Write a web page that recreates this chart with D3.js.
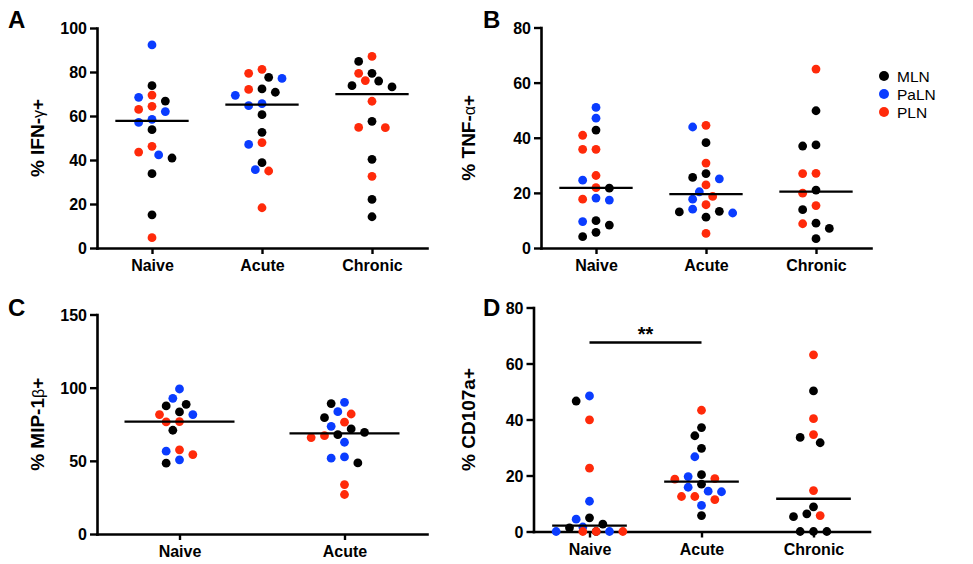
<!DOCTYPE html>
<html>
<head>
<meta charset="utf-8">
<script src="https://cdn.jsdelivr.net/npm/d3@7/dist/d3.min.js"></script>
<style>
  body { margin: 0; background: #fff; }
  svg { font-family: "Liberation Sans", Arial, Helvetica, sans-serif; }
</style>
</head>
<body>
<svg id="chart" width="973" height="564"></svg>
<script>
// groups (legend) and their colours
const groups = ["MLN", "PaLN", "PLN"];
const groupColors = { MLN: "#000000", PaLN: "#0a3cff", PLN: "#ff2a0a" };

// A: % IFN-g+
const ifnCats = ["Naive", "Acute", "Chronic"];
const ifnTicks = [0, 20, 40, 60, 80, 100];
const ifnNaive = { MLN: [73.8, 66.8, 53.8, 40.9, 33.8, 15.1], PaLN: [92.3, 68.5, 62, 58.5, 57.1, 42.3], PLN: [69.5, 64.4, 63, 46.2, 43.6, 4.7] };
const ifnAcute = { MLN: [77.6, 72.3, 70.8, 60.6, 52.6, 38.8], PaLN: [77.1, 69.4, 65.6, 64.7, 47.1, 35.6], PLN: [81.2, 79.4, 72.1, 47.9, 35, 18.3] };
const ifnChronic = { MLN: [84.8, 79.4, 75.9, 73.8, 73.2, 57.6, 40.3, 22.1, 14.2], PaLN: [], PLN: [87.1, 79.4, 76.1, 66.7, 54.8, 54.7, 32.6] };

// B: % TNF-a+
const tnfCats = ["Naive", "Acute", "Chronic"];
const tnfTicks = [0, 20, 40, 60, 80];
const tnfNaive = { MLN: [42.8, 21.7, 9.9, 8.3, 5.7, 4.1], PaLN: [51.0, 47.1, 24.6, 18.1, 17.4, 9.6], PLN: [40.9, 35.8, 35.8, 26.3, 21.9, 17.7] };
const tnfAcute = { MLN: [38.2, 27.0, 25.6, 13.3, 13.1, 11.2], PaLN: [43.9, 25.1, 20.4, 17.7, 14.1, 12.7], PLN: [44.5, 30.8, 22.9, 18.7, 15.7, 5.3] };
const tnfChronic = { MLN: [49.8, 37.4, 37.0, 21.0, 13.9, 9.0, 7.1, 3.4], PaLN: [], PLN: [64.9, 27.1, 27.0, 19.9, 15.4, 8.8] };

// C: % MIP-1b+
const mipCats = ["Naive", "Acute"];
const mipTicks = [0, 50, 100, 150];
const mipNaive = { MLN: [88.6, 87.5, 83.4, 70.9, 48.4], PaLN: [99.1, 92.7, 81.6, 56.6, 50.7], PLN: [81.6, 76.8, 76.6, 57.5, 54.3] };
const mipAcute = { MLN: [89.1, 79.5, 71.8, 69.5, 67.9, 48.6], PaLN: [90.0, 83.6, 73.6, 62.7, 52.7, 51.8], PLN: [82.0, 76.4, 67.2, 65.9, 33.8, 27.0] };

// D: % CD107a+
const cdCats = ["Naive", "Acute", "Chronic"];
const cdTicks = [0, 20, 40, 60, 80];
const cdNaive = { MLN: [46.6, 4.9, 2.6, 1.3, 0], PaLN: [48.4, 10.8, 4.4, 1.6, 0, 0], PLN: [39.9, 22.6, 0, 0, 0] };
const cdAcute = { MLN: [37.1, 34.2, 29.7, 20.3, 16.9, 5.7], PaLN: [26.7, 19.6, 15.8, 14.4, 14.2, 9.3], PLN: [43.3, 18.9, 18.7, 12.5, 12.5, 11.4] };
const cdChronic = { MLN: [50.2, 33.6, 31.7, 8.8, 6.3, 5.3, 0, 0, 0], PaLN: [], PLN: [63.1, 40.3, 34.6, 14.6, 5.7] };
const cdSignif = { from: "Naive", to: "Acute", level: 67.5, label: "**" };

const svg = d3.select("#chart");

// panel layout
const panels = [
  { letter: "A", lx: 8, ly: 28, title: ["% IFN-", "\u03B3", "+"], tx: 44, cats: ifnCats, cols: [ifnNaive, ifnAcute, ifnChronic], ticks: ifnTicks, x0: 97, x1: 427, yTop: 28, yBot: 248 },
  { letter: "B", lx: 483, ly: 28, title: ["% TNF-", "\u03B1", "+"], tx: 475, cats: tnfCats, cols: [tnfNaive, tnfAcute, tnfChronic], ticks: tnfTicks, x0: 541, x1: 871, yTop: 27.5, yBot: 248 },
  { letter: "C", lx: 8, ly: 316, title: ["% MIP-1", "\u03B2", "+"], tx: 44, cats: mipCats, cols: [mipNaive, mipAcute], ticks: mipTicks, x0: 97, x1: 427, yTop: 314.5, yBot: 534 },
  { letter: "D", lx: 483, ly: 316, title: ["% CD107a+", "", ""], tx: 475, cats: cdCats, cols: [cdNaive, cdAcute, cdChronic], ticks: cdTicks, x0: 533.5, x1: 869.5, yTop: 307.5, yBot: 531.5, signif: cdSignif }
];

const R = 4.4;        // dot radius
const SLOT = 6.67;    // horizontal slot width of the swarm
const MIN_D = 9.4;    // min centre distance before dots count as touching
const MAX_SLOT = 5;

// simple beeswarm: highest values first, nearest free slot to the centre
function swarm(col, cx, y) {
  let pts = [];
  groups.forEach(g => col[g].forEach(v => pts.push({ v: v, g: g })));
  pts.sort((a, b) => b.v - a.v);
  const placed = [];
  const order = [0];
  for (let k = 1; k <= MAX_SLOT; k++) { order.push(-k, k); }
  pts.forEach(p => {
    p.y = y(p.v);
    let best = null, bestHits = Infinity;
    for (const k of order) {
      const px = cx + k * SLOT;
      const hits = placed.filter(q => Math.hypot(q.x - px, q.y - p.y) < MIN_D).length;
      if (hits < bestHits) { bestHits = hits; best = px; }
      if (hits === 0) break;
    }
    p.x = best;
    placed.push(p);
  });
  return pts;
}

panels.forEach(p => {
  const g = svg.append("g");
  const x = d3.scalePoint().domain(p.cats).range([p.x0, p.x1]).padding(0.5);
  const ymax = d3.max(p.ticks);
  const y = d3.scaleLinear().domain([0, ymax]).range([p.yBot, p.yTop]);

  // axes
  const xa = g.append("g")
    .attr("transform", "translate(0," + p.yBot + ")")
    .call(d3.axisBottom(x).tickSize(6).tickSizeOuter(0).tickPadding(6));
  const ya = g.append("g")
    .attr("transform", "translate(" + p.x0 + ",0)")
    .call(d3.axisLeft(y).tickValues(p.ticks).tickSize(7).tickSizeOuter(0).tickPadding(3));
  [xa, ya].forEach(a => {
    a.select(".domain").attr("stroke-width", 2.6).attr("stroke-linecap", "square");
    a.selectAll(".tick line").attr("stroke-width", 2.4);
    a.selectAll(".tick text")
      .attr("fill", "#000")
      .style("font-size", "16px")
      .style("font-weight", "bold")
      .style("font-family", "'Liberation Sans', Arial, sans-serif");
  });
  ya.selectAll(".tick text").attr("dy", "0.36em");

  // dots
  p.cols.forEach((col, i) => {
    const cx = x(p.cats[i]);
    const pts = swarm(col, cx, y);
    g.append("g").selectAll("circle")
      .data(pts)
      .enter()
      .append("circle")
      .attr("cx", d => d.x)
      .attr("cy", d => d.y)
      .attr("r", R)
      .attr("fill", d => groupColors[d.g]);

    // median line
    const med = d3.median(pts, d => d.v);
    const hw = x.step() / 3;
    g.append("line")
      .attr("x1", cx - hw).attr("x2", cx + hw)
      .attr("y1", y(med)).attr("y2", y(med))
      .attr("stroke", "#000")
      .attr("stroke-width", 2.3);
  });

  // significance bar
  if (p.signif) {
    const s = p.signif;
    const sy = y(s.level);
    g.append("line")
      .attr("x1", x(s.from)).attr("x2", x(s.to))
      .attr("y1", sy).attr("y2", sy)
      .attr("stroke", "#000")
      .attr("stroke-width", 2.3);
    g.append("text")
      .attr("x", (x(s.from) + x(s.to)) / 2)
      .attr("y", sy - 2)
      .attr("text-anchor", "middle")
      .style("font-size", "20px")
      .style("font-weight", "bold")
      .text(s.label);
  }

  // y title
  const t = g.append("text")
    .attr("transform", "translate(" + p.tx + "," + ((p.yTop + p.yBot) / 2) + ")rotate(-90)")
    .attr("text-anchor", "middle")
    .style("font-size", "19px")
    .style("font-weight", "bold");
  t.append("tspan").text(p.title[0]);
  if (p.title[1]) t.append("tspan").style("font-weight", "normal").style("font-size", "16px").text(p.title[1]);
  if (p.title[2]) t.append("tspan").text(p.title[2]);

  // panel letter
  g.append("text")
    .attr("x", p.lx)
    .attr("y", p.ly)
    .style("font-size", "24px")
    .style("font-weight", "bold")
    .text(p.letter);
});

// legend
const legend = svg.append("g").attr("transform", "translate(884,76)");
groups.forEach((name, i) => {
  const row = legend.append("g").attr("transform", "translate(0," + (i * 18) + ")");
  row.append("circle").attr("r", R + 0.6).attr("fill", groupColors[name]);
  row.append("text")
    .attr("x", 13)
    .attr("y", 5.5)
    .style("font-size", "15.5px")
    .text(name);
});
</script>
</body>
</html>
